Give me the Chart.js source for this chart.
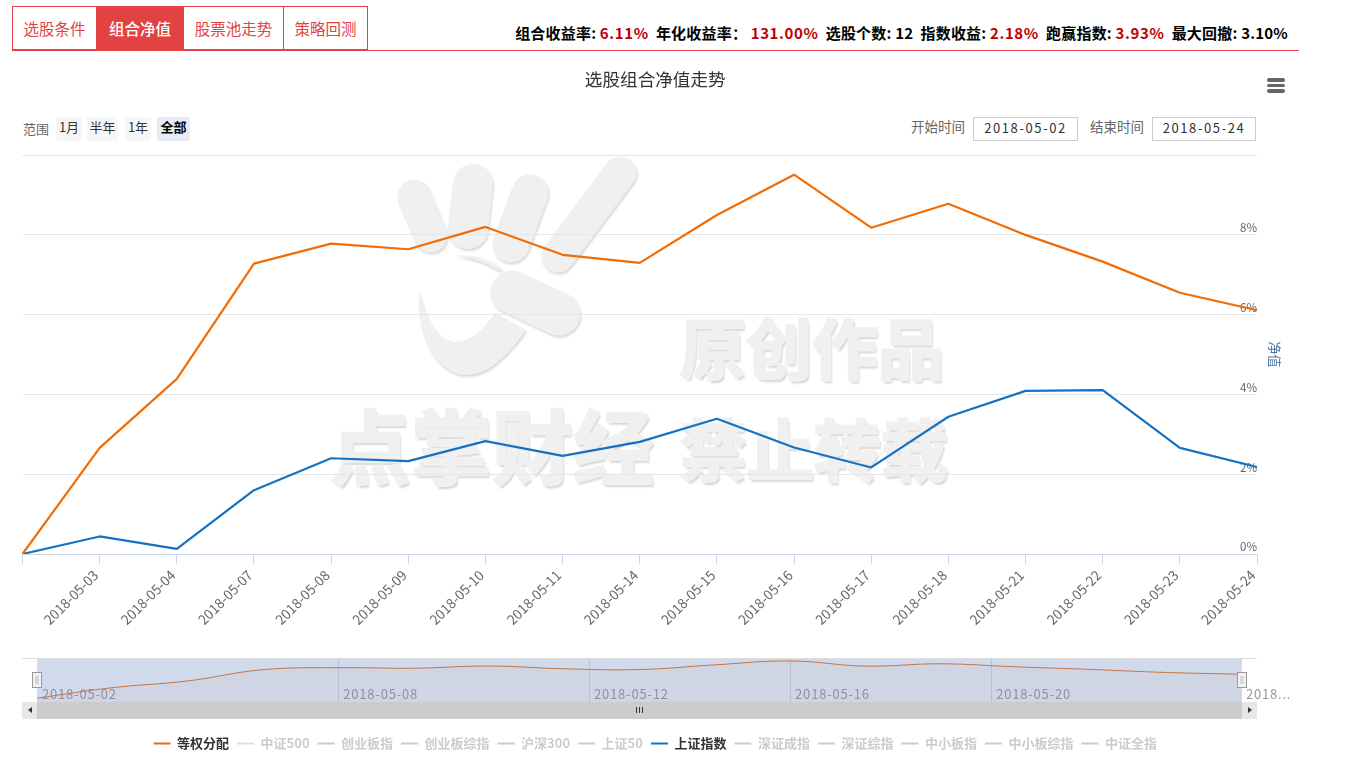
<!DOCTYPE html>
<html lang="zh"><head><meta charset="utf-8"><title>选股组合净值走势</title>
<script src="https://cdn.jsdelivr.net/npm/chart.js@4"></script>
<style>
html,body{margin:0;padding:0;background:#fff;width:1354px;height:769px;overflow:hidden;font-family:"Noto Sans CJK SC","Noto Sans",sans-serif}
.abs{position:absolute}
.tab{position:absolute;top:6px;height:44px;line-height:42px;text-align:center;font-size:15.5px;color:#e24444;box-sizing:border-box;border:1px solid #e64444;border-left:none}
.tab.active{background:#e34242;color:#fff;border-color:#e34242;font-weight:500}
#stats{position:absolute;top:23px;right:66px;font-size:15px;line-height:20px;font-weight:700;color:#000;white-space:nowrap;letter-spacing:.2px}
#stats b{color:#c00000;font-weight:700;letter-spacing:.6px}
.rb{position:absolute;top:117px;height:24px;line-height:20px;text-align:center;font-size:13px;color:#333;background:#f7f7f7;border-radius:2px}
.rb.on{background:#e6ebf5;color:#000;font-weight:700}
.lbl{position:absolute;font-size:13.5px;color:#666;line-height:20px;white-space:nowrap}
.inp{position:absolute;top:117px;height:24px;box-sizing:border-box;border:1px solid #ccc;font-size:13px;line-height:19px;color:#333;text-align:center;letter-spacing:1.6px;background:#fff}
.wm{position:absolute;font-weight:700;color:#f0f0f0;-webkit-text-stroke:2.5px #f0f0f0;text-shadow:2px 3px 2px #d6d6d6;white-space:nowrap;line-height:1}
#menu i{position:absolute;left:0;width:18px;height:3.5px;background:#666;border-radius:2px}
#main{position:absolute;left:0;top:0}
#nav{position:absolute;left:22px;top:659px}
.sb{position:absolute;top:702px;height:17px}
</style></head><body>
<svg class="abs" style="left:0;top:0;filter:drop-shadow(1px 2px 1px #d8d8d8)" width="1354" height="769">
<g stroke="#f0f0f0" stroke-linecap="round" fill="none">
<path d="M414 196L431 236" stroke-width="33"/>
<path d="M473 184L468 229" stroke-width="40"/>
<path d="M530 193L511 244" stroke-width="37"/>
<path d="M620 173L558 256" stroke-width="33"/>
<path d="M512 292L559 314" stroke-width="43"/>
</g>
<path fill="#f0f0f0" d="M419 290C417 325 428 355 445 367C457 378 475 377 490 368C504 358 516 345 526 330L495 313C483 330 470 342 455 342C438 340 425 320 419 290Z"/>
<path fill="#f0f0f0" d="M455 256C472 254 490 258 503 270L497 270C485 262 472 258 455 256Z"/>
</svg>
<div class="wm" style="left:680px;top:312px;font-size:66px">原创作品</div>
<div class="wm" style="left:330px;top:402px;font-size:81px">点掌财经</div>
<div class="wm" style="left:680px;top:413px;font-size:67px">禁止转载</div>

<div class="abs" style="left:12px;top:50px;width:1287px;height:1px;background:#e64444"></div>
<div class="tab" style="left:12px;width:85px;border-left:1px solid #e64444">选股条件</div>
<div class="tab active" style="left:97px;width:87px">组合净值</div>
<div class="tab" style="left:184px;width:100px">股票池走势</div>
<div class="tab" style="left:284px;width:84px">策略回测</div>
<div id="stats">组合收益率: <b>6.11%</b>&nbsp; 年化收益率： <b>131.00%</b>&nbsp; 选股个数: 12&nbsp; 指数收益: <b>2.18%</b>&nbsp; 跑赢指数: <b>3.93%</b>&nbsp; 最大回撤: 3.10%</div>

<div class="lbl" style="left:23px;top:119px;font-size:13px">范围</div>
<div class="rb" style="left:56px;width:26px">1月</div>
<div class="rb" style="left:87px;width:31px">半年</div>
<div class="rb" style="left:125px;width:26px">1年</div>
<div class="rb on" style="left:157px;width:33px">全部</div>
<div class="lbl" style="left:911px;top:116px">开始时间</div>
<div class="inp" style="left:973px;width:105px">2018-05-02</div>
<div class="lbl" style="left:1090px;top:116px">结束时间</div>
<div class="inp" style="left:1152px;width:104px">2018-05-24</div>
<div id="menu" class="abs" style="left:1267px;top:78px;width:18px;height:15px"><i style="top:0"></i><i style="top:5.5px"></i><i style="top:11px"></i></div>

<canvas id="main" width="1310" height="769" style="width:1310px;height:769px"></canvas>
<div class="sb" style="left:22px;width:1235px;background:#ccc"></div>
<div class="sb" style="left:22px;width:15px;background:#e6e6e6"></div>
<div class="sb" style="left:1242px;width:15px;background:#e6e6e6"></div>
<div class="abs" style="left:28px;top:707px;width:0;height:0;border:3.5px solid transparent;border-right:4px solid #333;border-left:none"></div>
<div class="abs" style="left:1248px;top:707px;width:0;height:0;border:3.5px solid transparent;border-left:4px solid #333;border-right:none"></div>
<div class="abs" style="left:636px;top:707px;width:1px;height:6px;background:#333;box-shadow:3px 0 0 #333,6px 0 0 #333"></div>
<div class="abs" style="left:22px;top:658px;width:1235px;height:1px;background:#ddd"></div>
<canvas id="nav" width="1275" height="43" style="width:1275px;height:43px"></canvas>

<script>
const categories = ['2018-05-02','2018-05-03','2018-05-04','2018-05-07','2018-05-08','2018-05-09','2018-05-10','2018-05-11','2018-05-14','2018-05-15','2018-05-16','2018-05-17','2018-05-18','2018-05-21','2018-05-22','2018-05-23','2018-05-24'];
const equalWeight = [0,2.66,4.39,7.28,7.78,7.64,8.20,7.50,7.30,8.50,9.51,8.18,8.78,8.00,7.33,6.55,6.11];
const shIndex = [0,0.44,0.13,1.60,2.40,2.33,2.83,2.46,2.81,3.39,2.67,2.17,3.44,4.09,4.11,2.66,2.18];
const hiddenSeries = [['中证500','#dedede'],['创业板指','#ccc'],['创业板综指','#ccc'],['沪深300','#ccc'],['上证50','#ccc']];
const hiddenSeries2 = [['深证成指','#ccc'],['深证综指','#ccc'],['中小板指','#ccc'],['中小板综指','#ccc'],['中证全指','#ccc']];
const yTicks = [0,2,4,6,8,10];
const navTickPos = [0,4,7.33,10,12.67,16];
const navTickLabels = ['2018-05-02','2018-05-08','2018-05-12','2018-05-16','2018-05-20','2018...'];

const FONT = '"Noto Sans CJK SC","Noto Sans",sans-serif';
const hid = a => a.map(([label,color]) => ({label,data:[],borderColor:color,backgroundColor:color,hidden:true}));
const line = (label,data,color) => ({label,data,borderColor:color,backgroundColor:color,borderWidth:2.2,pointRadius:0,tension:0,borderJoinStyle:'round'});

new Chart(document.getElementById('main'),{
  type:'line',
  data:{labels:categories,datasets:[
    line('等权分配',equalWeight,'#f26c05'),
    ...hid(hiddenSeries),
    line('上证指数',shIndex,'#1572c2'),
    ...hid(hiddenSeries2)
  ]},
  options:{
    responsive:false,animation:false,devicePixelRatio:1,
    layout:{padding:{left:22.5,right:22,top:69,bottom:9}},
    interaction:{mode:null},
    plugins:{
      tooltip:{enabled:false},
      title:{display:true,text:'选股组合净值走势',color:'#333',font:{family:FONT,size:17.6,weight:'normal'},padding:{top:0,bottom:65}},
      legend:{display:true,position:'bottom',onClick:null,labels:{
        boxWidth:17,boxHeight:2,padding:8,font:{family:FONT,size:13,weight:'bold'},
        generateLabels:c=>c.data.datasets.map((d,i)=>({text:d.label,fillStyle:d.borderColor,strokeStyle:d.borderColor,lineWidth:0,hidden:false,fontColor:d.hidden?'#ccc':'#333',datasetIndex:i}))
      }}
    },
    scales:{
      x:{
        grid:{drawOnChartArea:false,drawTicks:true,tickLength:10,color:'#ccd6eb'},
        border:{color:'#ccd6eb'},
        afterFit:s=>{s.height=175},
        ticks:{autoSkip:false,minRotation:45,maxRotation:45,padding:3,labelOffset:-4,color:'#666',font:{family:FONT,size:13.6},
          callback:function(v,i){return i===0?'':categories[i];}}
      },
      y:{
        position:'right',min:0,max:10,
        afterBuildTicks:s=>{s.ticks=yTicks.map(value=>({value}))},
        afterFit:s=>{s.width=31},
        grid:{color:'#e6e6e6',drawTicks:false},
        border:{display:false},
        title:{display:true,text:'净值',color:'#4572a7',font:{family:FONT,size:13},padding:{top:5,bottom:0}},
        ticks:{mirror:true,padding:0,labelOffset:-7,color:'#666',font:{family:FONT,size:11.5},
          callback:v=>v===10?'':v+'%'}
      }
    }
  }
});

const navDecor = {
  id:'navDecor',
  beforeDatasetsDraw(c){
    const g=c.ctx,x=c.scales.x,a=c.chartArea;
    g.save();
    g.font='13px '+FONT;g.textBaseline='middle';g.letterSpacing='0.8px';
    navTickPos.forEach((p,i)=>{
      const px=x.getPixelForValue(p);
      if(i>0&&i<navTickPos.length-1){g.strokeStyle='#dcdde3';g.lineWidth=1;g.beginPath();g.moveTo(Math.round(px)+.5,a.top);g.lineTo(Math.round(px)+.5,a.bottom);g.stroke();}
      g.fillStyle='#999';
      g.fillText(navTickLabels[i],px+(i===navTickPos.length-1?4:5),35);
    });
    g.restore();
  },
  afterDatasetsDraw(c){
    const g=c.ctx,x=c.scales.x,a=c.chartArea;
    const l=x.getPixelForValue(0),r=x.getPixelForValue(16);
    g.save();
    g.fillStyle='rgba(102,133,194,0.3)';
    g.fillRect(l,a.top,r-l,a.bottom-a.top);
    [l,r].forEach(px=>{
      const hx=Math.round(px)-3.5;
      g.fillStyle='#f2f2f2';g.strokeStyle='#999';g.lineWidth=1;
      g.fillRect(hx-1,13.5,9,15);g.strokeRect(hx-1,13.5,9,15);
      g.strokeStyle='#bbb';g.beginPath();
      g.moveTo(hx+2.5,17);g.lineTo(hx+2.5,25);g.moveTo(hx+4.5,17);g.lineTo(hx+4.5,25);g.stroke();
    });
    g.restore();
  }
};
new Chart(document.getElementById('nav'),{
  type:'line',
  data:{datasets:[{data:equalWeight.map((y,i)=>({x:i,y})),borderColor:'#f26c05',borderWidth:1,pointRadius:0,tension:0.4,fill:'start',backgroundColor:'rgba(242,108,5,0.05)'}]},
  options:{
    responsive:false,animation:false,devicePixelRatio:1,
    layout:{padding:{left:0,top:0,bottom:0,right:40}},
    plugins:{legend:{display:false},tooltip:{enabled:false},title:{display:false}},
    scales:{
      x:{type:'linear',display:false,min:-0.2,max:16.2},
      y:{display:false,min:-1,max:10}
    }
  },
  plugins:[navDecor]
});
</script>
</body></html>
